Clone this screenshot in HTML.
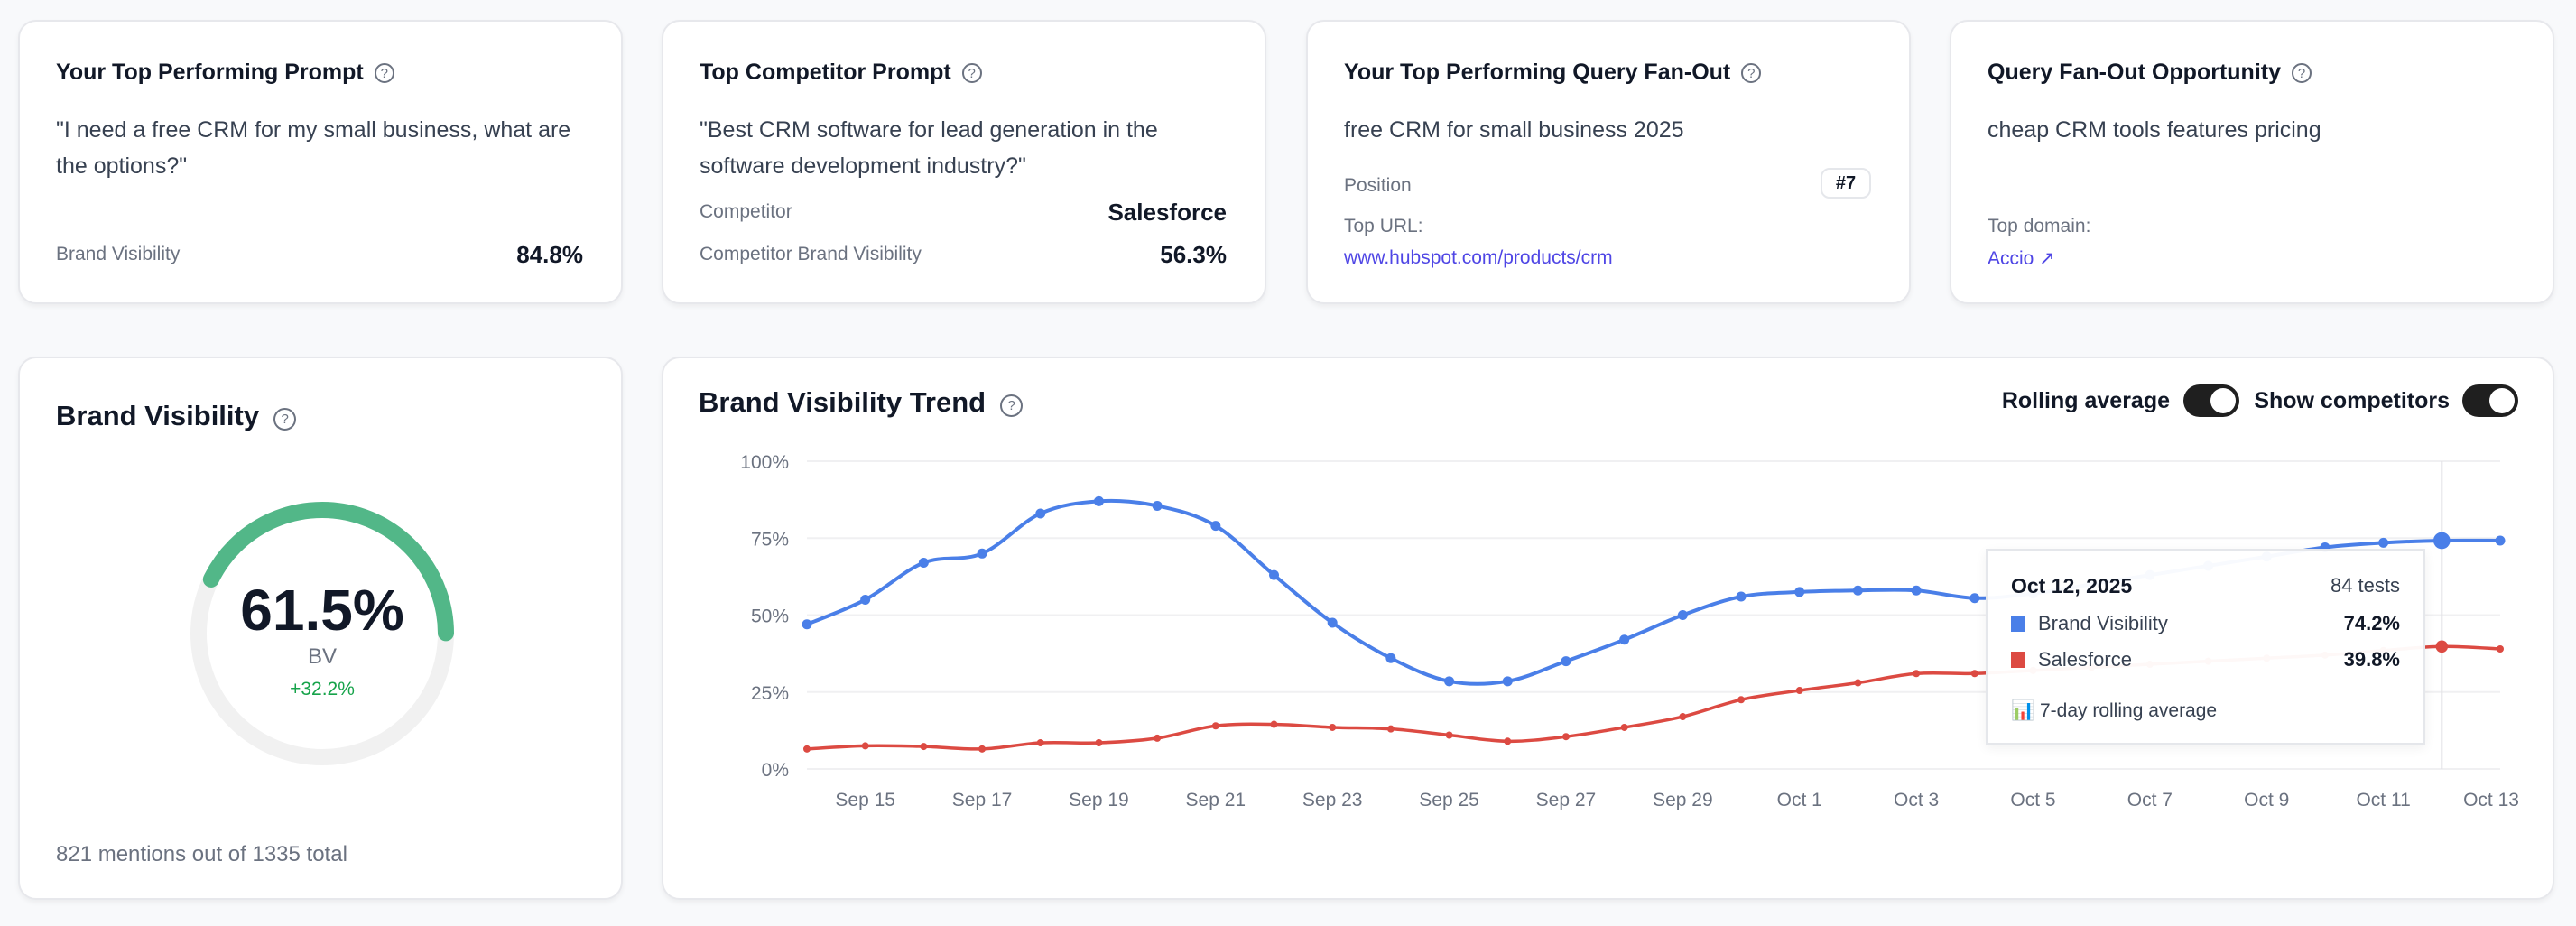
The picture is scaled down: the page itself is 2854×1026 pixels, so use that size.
<!DOCTYPE html>
<html><head><meta charset="utf-8">
<style>
*{box-sizing:border-box;margin:0;padding:0}
body{width:2854px;height:1026px;background:#f8f9fb;font-family:"Liberation Sans",sans-serif;color:#111827;position:relative;overflow:hidden}
.card{position:absolute;background:#fff;border:2px solid #e7e8ec;border-radius:20px;box-shadow:0 3px 6px rgba(0,0,0,0.05)}
.abs{position:absolute;white-space:nowrap}
.title{font-size:25px;font-weight:bold;color:#111827}
.q{display:inline-block;width:22px;height:22px;border:2px solid #6b7280;border-radius:50%;font-size:15px;line-height:19px;text-align:center;color:#6b7280;font-weight:normal;vertical-align:2px;margin-left:12px}
.body{font-size:25px;color:#374151;line-height:40px}
.lbl{font-size:21px;color:#6b7280}
.val{font-size:26px;font-weight:bold;color:#111827}
.link{font-size:21px;color:#4f46e5}
.tog{position:absolute;width:62px;height:36px;border-radius:18px;background:#1f1f1f}
.tog::after{content:"";position:absolute;right:4px;top:4px;width:28px;height:28px;border-radius:50%;background:#fff}
</style></head><body>

<div class="card" style="left:20px;top:22px;width:670px;height:315px">
 <div class="abs title" style="left:40px;top:42px">Your Top Performing Prompt<span class="q">?</span></div>
 <div class="abs body" style="left:40px;top:100px;white-space:normal;width:600px">"I need a free CRM for my small business, what are the options?"</div>
 <div class="abs lbl" style="left:40px;top:246px">Brand Visibility</div>
 <div class="abs val" style="right:42px;top:243px">84.8%</div>
</div>

<div class="card" style="left:733px;top:22px;width:670px;height:315px">
 <div class="abs title" style="left:40px;top:42px">Top Competitor Prompt<span class="q">?</span></div>
 <div class="abs body" style="left:40px;top:100px;white-space:normal;width:600px">"Best CRM software for lead generation in the software development industry?"</div>
 <div class="abs lbl" style="left:40px;top:199px">Competitor</div>
 <div class="abs val" style="right:42px;top:196px">Salesforce</div>
 <div class="abs lbl" style="left:40px;top:246px">Competitor Brand Visibility</div>
 <div class="abs val" style="right:42px;top:243px">56.3%</div>
</div>

<div class="card" style="left:1447px;top:22px;width:670px;height:315px">
 <div class="abs title" style="left:40px;top:42px">Your Top Performing Query Fan-Out<span class="q">?</span></div>
 <div class="abs body" style="left:40px;top:100px">free CRM for small business 2025</div>
 <div class="abs lbl" style="left:40px;top:170px">Position</div>
 <div class="abs" style="right:42px;top:162px;width:56px;height:34px;border:2px solid #e5e7eb;border-radius:10px;font-size:20px;font-weight:bold;text-align:center;line-height:30px">#7</div>
 <div class="abs lbl" style="left:40px;top:215px">Top URL:</div>
 <div class="abs link" style="left:40px;top:250px">www.hubspot.com/products/crm</div>
</div>

<div class="card" style="left:2160px;top:22px;width:670px;height:315px">
 <div class="abs title" style="left:40px;top:42px">Query Fan-Out Opportunity<span class="q">?</span></div>
 <div class="abs body" style="left:40px;top:100px">cheap CRM tools features pricing</div>
 <div class="abs lbl" style="left:40px;top:215px">Top domain:</div>
 <div class="abs link" style="left:40px;top:250px">Accio ↗</div>
</div>

<div class="card" style="left:20px;top:395px;width:670px;height:602px">
 <div class="abs" style="left:40px;top:46px;font-size:31px;font-weight:bold">Brand Visibility<span class="q" style="width:25px;height:25px;line-height:22px;margin-left:16px">?</span></div>
 <svg class="abs" style="left:0;top:0" width="670" height="602">
  <circle cx="335" cy="305" r="137" fill="none" stroke="#f1f1f1" stroke-width="18"/>
  <path id="garc" fill="none" stroke="#52b788" stroke-width="18" stroke-linecap="round"/>
 </svg>
 <div class="abs" style="left:0;width:670px;text-align:center;top:242px;font-size:64px;font-weight:bold">61.5%</div>
 <div class="abs" style="left:0;width:670px;text-align:center;top:317px;font-size:24px;color:#6b7280">BV</div>
 <div class="abs" style="left:0;width:670px;text-align:center;top:355px;font-size:21px;color:#16a34a">+32.2%</div>
 <div class="abs" style="left:40px;top:536px;font-size:24px;color:#6b7280">821 mentions out of 1335 total</div>
</div>

<div class="card" style="left:733px;top:395px;width:2097px;height:602px"></div>
<div class="abs" style="left:774px;top:428px;font-size:31px;font-weight:bold">Brand Visibility Trend<span class="q" style="width:25px;height:25px;line-height:22px;margin-left:16px">?</span></div>
<div class="abs" style="right:450px;top:430px;font-size:25px;font-weight:bold">Rolling average</div>
<div class="tog" style="left:2419px;top:426px"></div>
<div class="abs" style="right:140px;top:430px;font-size:25px;font-weight:bold">Show competitors</div>
<div class="tog" style="left:2728px;top:426px"></div>

<svg id="chart" class="abs" style="left:0;top:0" width="2854" height="1026"></svg>

<div class="abs" style="left:2200px;top:608px;width:487px;height:217px;background:rgba(255,255,255,0.96);border:2px solid #e5e7eb;box-shadow:0 4px 12px rgba(0,0,0,0.06)">
 <div class="abs" style="left:26px;top:26px;font-size:23px;font-weight:bold">Oct 12, 2025</div>
 <div class="abs" style="right:26px;top:26px;font-size:22px;color:#374151">84 tests</div>
 <div class="abs" style="left:26px;top:72px;width:16px;height:18px;background:#4a7fe8"></div>
 <div class="abs" style="left:56px;top:68px;font-size:22px;color:#374151">Brand Visibility</div>
 <div class="abs" style="right:26px;top:68px;font-size:22px;font-weight:bold">74.2%</div>
 <div class="abs" style="left:26px;top:112px;width:16px;height:18px;background:#dc4a42"></div>
 <div class="abs" style="left:56px;top:108px;font-size:22px;color:#374151">Salesforce</div>
 <div class="abs" style="right:26px;top:108px;font-size:22px;font-weight:bold">39.8%</div>
 <div class="abs" style="left:26px;top:166px;font-size:21px;color:#374151">📊 7-day rolling average</div>
</div>

<script>
const dates=["Sep 14","Sep 15","Sep 16","Sep 17","Sep 18","Sep 19","Sep 20","Sep 21","Sep 22","Sep 23","Sep 24","Sep 25","Sep 26","Sep 27","Sep 28","Sep 29","Sep 30","Oct 1","Oct 2","Oct 3","Oct 4","Oct 5","Oct 6","Oct 7","Oct 8","Oct 9","Oct 10","Oct 11","Oct 12","Oct 13"];
const brandValues=[47,55,67,70,83,87,85.5,79,63,47.5,36,28.5,28.5,35,42,50,56,57.5,58,58,55.5,57,60,63,66,69,72,73.5,74.2,74.2];
const salesforceValues=[6.5,7.5,7.3,6.5,8.5,8.5,10,14,14.5,13.5,13,11,9,10.5,13.5,17,22.5,25.5,28,31,31,32,33,34,35,36,37,38.5,39.8,39];
const yTicks=[0,25,50,75,100];
const gaugeValue=61.5;
const hoverIndex=28;

const NS="http://www.w3.org/2000/svg";
const svg=document.getElementById('chart');
const x0=894,x1=2770,yTop=511,yBot=852;
const xs=i=>x0+(x1-x0)*i/(dates.length-1);
const ys=v=>yBot-(yBot-yTop)*v/100;
function mk(t,a){const e=document.createElementNS(NS,t);for(const k in a)e.setAttribute(k,a[k]);svg.appendChild(e);return e;}
yTicks.forEach(t=>{
 const g=mk('line',{x1:x0,x2:x1,y1:ys(t),y2:ys(t),stroke:'#f0f0f2','stroke-width':2});
 
 
 const l=mk('text',{x:874,y:ys(t)+8,'text-anchor':'end','font-size':21,fill:'#6b7280','font-family':'Liberation Sans'});
 l.textContent=t+'%';
 
 
});
dates.forEach((d,i)=>{
 if(i%2===1){
  const l=mk('text',{x:Math.min(xs(i),x1-10),y:893,'text-anchor':'middle','font-size':21,fill:'#6b7280','font-family':'Liberation Sans'});
  l.textContent=d;
  
  
 }
});
const hl=mk('line',{x1:xs(hoverIndex),x2:xs(hoverIndex),y1:yTop,y2:yBot,stroke:'#e2e2e6','stroke-width':2});


function path(vals){
 const p=vals.map((v,i)=>[xs(i),ys(v)]);
 let d='M'+p[0][0]+','+p[0][1];
 for(let i=0;i<p.length-1;i++){
  const a=p[i-1]||p[i],b=p[i],c=p[i+1],e=p[i+2]||c;
  d+=' C'+(b[0]+(c[0]-a[0])/6)+','+(b[1]+(c[1]-a[1])/6)+' '+(c[0]-(e[0]-b[0])/6)+','+(c[1]-(e[1]-b[1])/6)+' '+c[0]+','+c[1];
 }
 return d;
}
function series(vals,color,w,r,name){
 const l=mk('path',{d:path(vals),fill:'none',stroke:color,'stroke-width':w});
 
 
 vals.forEach((v,i)=>{
  const c=mk('circle',{cx:xs(i),cy:ys(v),r:i===hoverIndex?r*1.7:r,fill:color});
  
  
 });
}
series(salesforceValues,'#dc4a42',3.5,4,'salesforce');
series(brandValues,'#4a7fe8',4,5.5,'brand-visibility');
// gauge
const cx=335,cy=305,R=137;
const a0=-64*Math.PI/180,sweep=gaugeValue/100*250*Math.PI/180;
const a1=a0+sweep;
const pt=a=>[cx+R*Math.sin(a),cy-R*Math.cos(a)];
const s=pt(a0),e=pt(a1);
document.getElementById('garc').setAttribute('d','M'+s[0]+','+s[1]+' A'+R+','+R+' 0 '+(sweep>Math.PI?1:0)+' 1 '+e[0]+','+e[1]);
</script>
</body></html>
